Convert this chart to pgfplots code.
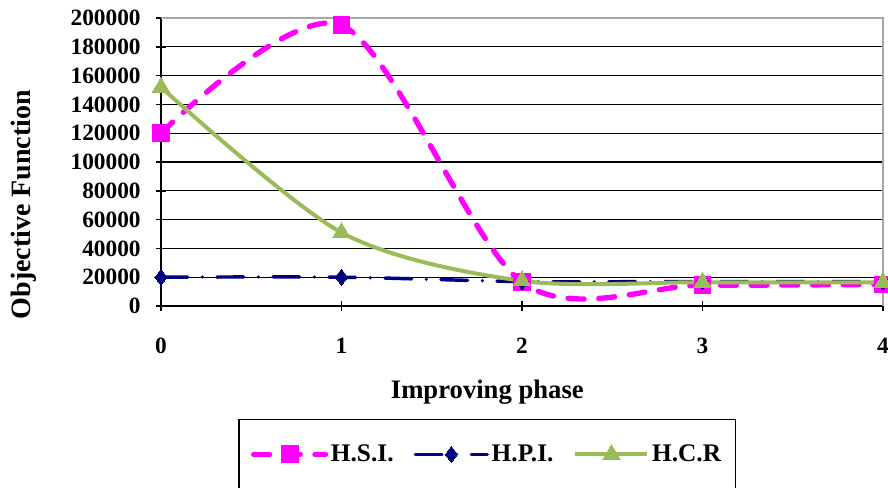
\documentclass[border=0pt]{standalone}
\usepackage{pgfplots}
\pgfplotsset{compat=1.18}
\usepackage{fontspec}
\setmainfont{Liberation Serif}
\definecolor{hsi}{RGB}{255,0,255}
\definecolor{hpi}{RGB}{0,0,128}
\definecolor{hcr}{RGB}{155,187,89}
\begin{document}
\begin{tikzpicture}[x=1pt,y=1pt]
\begin{axis}[
  at={(0,0)}, anchor=south west,
  scale only axis, width=541.5pt, height=216pt,
  xmin=0, xmax=4, ymin=0, ymax=200000,
  xtick={0,1,2,3,4}, xticklabels={0,1,2,3,4},
  ytick={0,20000,40000,60000,80000,100000,120000,140000,160000,180000,200000},
  yticklabels={0,20000,40000,60000,80000,100000,120000,140000,160000,180000,200000},
  axis x line*=bottom, axis y line*=left,
  axis line style={black, line width=1.1pt, -},
  ymajorgrids, grid style={black, line width=0.9pt},
  tick align=center, major tick length=7.5pt,
  tick style={black, line width=1.1pt},
  scaled y ticks=false,
  ticklabel style={font=\bfseries\fontsize{17.5}{20}\selectfont},
  xticklabel style={yshift=-17pt},
  yticklabel style={xshift=-8pt},
  xlabel={Improving phase}, ylabel={Objective Function},
  xlabel style={font=\bfseries\fontsize{20}{23}\selectfont, at={(axis description cs:0.452,-0.299)}, anchor=center},
  ylabel style={font=\bfseries\fontsize{21}{24}\selectfont, at={(axis description cs:-0.19,0.352)}, anchor=center, rotate=0},
  legend columns=3,
  legend style={at={(axis description cs:0.452,-0.515)}, anchor=center,
    draw=black, line width=1.1pt, inner xsep=9pt, inner ysep=17pt,
    font=\bfseries\fontsize{19}{22}\selectfont,
    /tikz/every even column/.append style={column sep=13pt}},
  legend image code/.code={\draw[mark repeat=2,mark phase=2] plot coordinates {(0pt,0pt) (27pt,0pt) (54pt,0pt)};},
  clip=false,
]
\addplot[hsi, line width=4pt, line cap=round, dash pattern=on 12pt off 11pt, smooth, tension=0.5,
  mark=square*, mark size=6.3pt, mark options={solid, fill=hsi, line width=0pt}]
  coordinates {(0,120000) (1,195000) (2,16500) (3,14500) (4,15000)};
\addlegendentry{H.S.I.}
\addplot[hpi, line width=2.6pt, line cap=round, dash pattern=on 20pt off 11pt on 0pt off 11pt, smooth, tension=0.5,
  mark=diamond*, mark size=6pt, mark options={solid, fill=hpi, line width=0pt}]
  coordinates {(0,20000) (1,20000) (2,17000) (3,17000) (4,17000)};
\addlegendentry{H.P.I.}
\addplot[hcr, line width=3pt, smooth, tension=0.5,
  mark=triangle*, mark size=7.5pt, mark options={solid, fill=hcr, line width=0pt}]
  coordinates {(0,152000) (1,51000) (2,17500) (3,16500) (4,16500)};
\addlegendentry{H.C.R}
\draw[gray!70, line width=1.1pt] (axis description cs:0,1) -- (axis description cs:1,1) -- (axis description cs:1,0);
\end{axis}
\pgfresetboundingbox
\path[use as bounding box] (-120.75pt,-135.75pt) rectangle (545.25pt,229.5pt);
\end{tikzpicture}
\end{document}
